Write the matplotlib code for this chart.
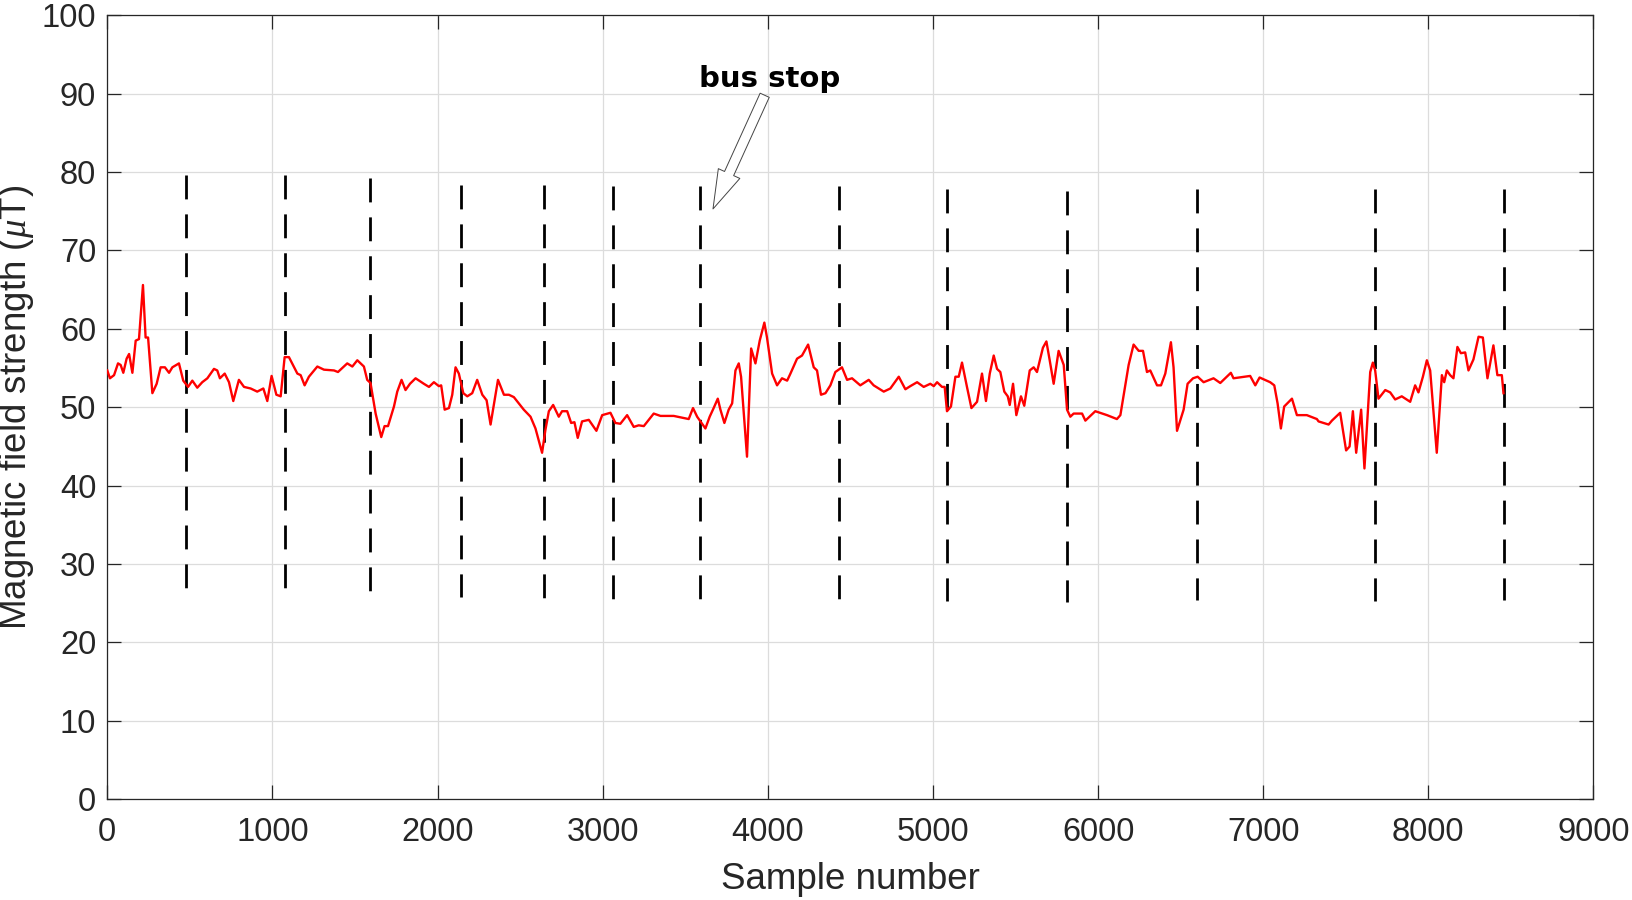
import matplotlib
matplotlib.use('Agg')
import matplotlib.pyplot as plt

plt.rcParams['font.family'] = ['Liberation Sans', 'DejaVu Sans']
plt.rcParams['mathtext.fontset'] = 'custom'
plt.rcParams['mathtext.it'] = 'Liberation Serif:italic'

# magnetic field trace (sample number, field in uT)
sample = [0, 16, 41, 65, 81, 97, 117, 132, 152, 172, 192, 216, 232, 247, 273, 299, 323,
          349, 374, 394, 434, 460, 489, 515, 545, 575, 606, 646, 666, 682, 711, 737, 763,
          797, 828, 868, 908, 945, 969, 995, 1024, 1050, 1074, 1100, 1151, 1171, 1195,
          1221, 1272, 1312, 1373, 1397, 1453, 1484, 1514, 1554, 1574, 1594, 1625, 1659,
          1679, 1700, 1736, 1756, 1782, 1806, 1833, 1867, 1917, 1948, 1978, 2008, 2022,
          2043, 2069, 2089, 2109, 2129, 2156, 2180, 2210, 2240, 2271, 2297, 2321, 2366,
          2402, 2432, 2462, 2492, 2522, 2563, 2593, 2633, 2653, 2674, 2700, 2734, 2754,
          2785, 2809, 2829, 2849, 2875, 2916, 2962, 2997, 3047, 3077, 3107, 3148, 3188,
          3218, 3249, 3279, 3309, 3350, 3430, 3521, 3547, 3572, 3592, 3622, 3648, 3672,
          3697, 3713, 3737, 3763, 3784, 3804, 3824, 3838, 3874, 3899, 3925, 3951, 3979,
          3995, 4026, 4056, 4086, 4117, 4137, 4177, 4207, 4244, 4278, 4298, 4322, 4349,
          4379, 4409, 4449, 4480, 4510, 4560, 4611, 4641, 4702, 4742, 4793, 4833, 4863,
          4904, 4944, 4984, 5005, 5025, 5055, 5071, 5085, 5109, 5136, 5156, 5176, 5206,
          5233, 5267, 5297, 5321, 5344, 5368, 5388, 5408, 5432, 5453, 5465, 5485, 5505,
          5533, 5553, 5586, 5610, 5630, 5666, 5687, 5707, 5731, 5761, 5792, 5812, 5832,
          5852, 5903, 5923, 5983, 6054, 6114, 6135, 6185, 6215, 6246, 6272, 6296, 6316,
          6357, 6381, 6407, 6441, 6457, 6478, 6518, 6542, 6575, 6603, 6639, 6699, 6740,
          6804, 6820, 6921, 6952, 6978, 7042, 7067, 7087, 7107, 7127, 7174, 7204, 7264,
          7325, 7335, 7396, 7416, 7466, 7502, 7523, 7543, 7563, 7593, 7613, 7648, 7664,
          7678, 7698, 7739, 7769, 7799, 7839, 7890, 7920, 7940, 7967, 7991, 8011, 8051,
          8082, 8096, 8112, 8132, 8152, 8176, 8197, 8223, 8243, 8273, 8304, 8330, 8358,
          8394, 8418, 8445, 8455]
field = [54.7, 53.7, 54.1, 55.6, 55.4, 54.4, 56.2, 56.8, 54.4, 58.5, 58.7, 65.6, 58.9, 58.9,
         51.8, 53.0, 55.1, 55.1, 54.4, 55.1, 55.6, 53.4, 52.6, 53.4, 52.5, 53.2, 53.7, 54.9,
         54.7, 53.7, 54.3, 53.2, 50.8, 53.5, 52.6, 52.4, 52.0, 52.4, 50.8, 54.0, 51.6, 51.4,
         56.4, 56.4, 54.3, 54.1, 52.8, 53.9, 55.2, 54.8, 54.7, 54.5, 55.6, 55.2, 56.0, 55.2,
         53.5, 53.1, 49.2, 46.2, 47.6, 47.6, 50.1, 52.0, 53.5, 52.2, 53.0, 53.7, 53.0, 52.6,
         53.2, 52.7, 52.8, 49.7, 49.9, 51.6, 55.1, 54.3, 51.8, 51.4, 51.8, 53.5, 51.6, 50.9,
         47.8, 53.5, 51.6, 51.6, 51.3, 50.5, 49.7, 48.8, 47.3, 44.2, 47.1, 49.5, 50.3, 48.8,
         49.5, 49.5, 48.0, 48.1, 46.1, 48.2, 48.4, 47.0, 49.0, 49.3, 48.0, 47.9, 49.0, 47.5,
         47.7, 47.6, 48.4, 49.2, 48.9, 48.9, 48.5, 49.9, 48.8, 48.2, 47.3, 48.8, 49.9, 51.1,
         49.7, 48.0, 49.7, 50.5, 54.7, 55.6, 53.9, 43.7, 57.5, 55.6, 58.5, 60.8, 58.9, 54.3,
         52.8, 53.7, 53.4, 54.3, 56.2, 56.6, 58.0, 55.1, 54.7, 51.6, 51.8, 52.8, 54.5, 55.1,
         53.5, 53.7, 52.8, 53.5, 52.8, 52.0, 52.4, 53.9, 52.3, 52.7, 53.2, 52.6, 53.0, 52.7,
         53.2, 52.6, 52.6, 49.5, 50.1, 53.9, 53.9, 55.7, 52.6, 49.9, 50.7, 54.3, 50.8, 54.3,
         56.6, 54.9, 54.5, 52.0, 51.4, 50.3, 53.0, 49.0, 51.4, 50.2, 54.7, 55.1, 54.5, 57.6,
         58.4, 56.0, 53.0, 57.2, 55.4, 49.7, 48.8, 49.2, 49.2, 48.3, 49.5, 49.0, 48.5, 49.0,
         55.4, 58.0, 57.2, 57.2, 54.5, 54.7, 52.8, 52.8, 54.3, 58.3, 55.1, 47.0, 49.7, 53.0,
         53.7, 53.9, 53.2, 53.7, 53.1, 54.4, 53.7, 54.0, 52.8, 53.8, 53.2, 52.8, 50.5, 47.3,
         50.1, 51.1, 49.0, 49.0, 48.5, 48.2, 47.8, 48.3, 49.3, 44.5, 45.0, 49.5, 44.2, 49.7,
         42.2, 54.5, 55.7, 54.7, 51.1, 52.2, 51.9, 51.0, 51.4, 50.7, 52.8, 51.9, 53.9, 56.0,
         54.7, 44.2, 54.1, 53.2, 54.7, 54.1, 53.7, 57.7, 56.9, 57.0, 54.7, 56.1, 59.0, 58.9,
         53.7, 57.9, 54.1, 54.1, 51.8]

# bus stop markers
stop_x = [477, 1076, 1593, 2141, 2646, 3062, 3591, 4430, 5085, 5811, 6599, 7677, 8458]
stop_top = [79.6, 79.6, 79.2, 78.3, 78.3, 78.2, 78.2, 78.2, 77.9, 77.6, 77.9, 77.9, 77.9]
stop_bottom = [26.9, 26.9, 26.5, 25.8, 25.7, 25.6, 25.6, 25.6, 25.3, 25.2, 25.4, 25.3, 25.4]

xticks = list(range(0, 9001, 1000))
yticks = list(range(0, 101, 10))

fig = plt.figure(figsize=(16.33, 9), dpi=100)
ax = fig.add_axes([0.0657, 0.1119, 0.9101, 0.8711])

for sx, t, b in zip(stop_x, stop_top, stop_bottom):
    ax.plot([sx, sx], [t, b], color='black', lw=2, linestyle=(0, (8.6, 5.4)), zorder=2)

ax.plot(sample, field, color='red', lw=1.7, zorder=3)

# annotation
ax.annotate('', xy=(3668, 75.3), xytext=(3981, 89.8),
            arrowprops=dict(arrowstyle='simple,head_length=2.8,head_width=1.7,tail_width=0.72',
                            mutation_scale=10, fc='white', ec='#444444', lw=0.7,
                            shrinkA=0, shrinkB=0), zorder=4)
ax.text(4011, 91.9, 'bus stop', fontsize=21, fontweight='bold', family='DejaVu Sans',
        ha='center', va='center', color='black', zorder=5)

ax.set_xlim(0, 9000)
ax.set_ylim(0, 100)
ax.set_xticks(xticks)
ax.set_yticks(yticks)
ax.grid(True, color='#dcdcdc', lw=0.9)
ax.set_axisbelow(True)
ax.tick_params(direction='in', length=10, width=0.9, top=True, right=True,
               labelsize=23.5, colors='#262626')
ax.tick_params(axis='x', pad=13)
ax.tick_params(axis='y', pad=8)
for sp in ax.spines.values():
    sp.set_color('#262626')
    sp.set_linewidth(0.9)

ax.set_xlabel('Sample number', fontsize=26.5, color='#262626', labelpad=10)
ax.set_ylabel(r'Magnetic field strength ($\mu$T)', fontsize=26.5, color='#262626', labelpad=4)

fig.savefig('out.png', dpi=100)
